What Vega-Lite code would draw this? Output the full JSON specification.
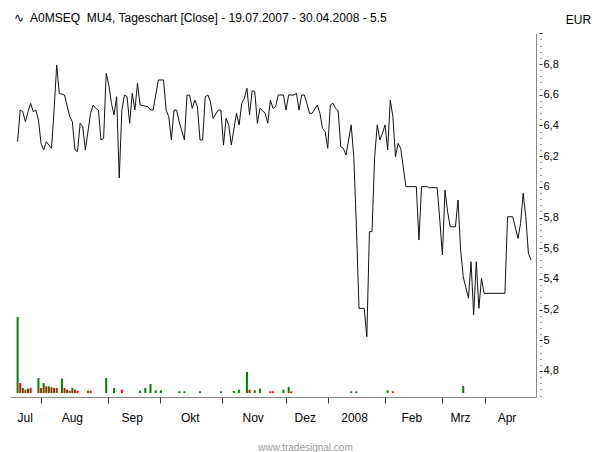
{
  "$schema": "https://vega.github.io/schema/vega-lite/v6.json",
  "width": 526,
  "height": 364,
  "autosize": {"type": "none"},
  "padding": {"left": 10, "top": 33, "right": 62, "bottom": 55},
  "background": "white",
  "config": {
    "view": {"stroke": null},
    "font": "Liberation Sans",
    "axis": {"labelFont": "Liberation Sans", "titleFont": "Liberation Sans", "grid": false}
  },
  "title": {
    "text": "∿\u00a0 A0MSEQ\u00a0 MU4, Tageschart [Close] - 19.07.2007 - 30.04.2008 - 5.5",
    "anchor": "start",
    "frame": "group",
    "orient": "top",
    "offset": 9,
    "dx": 4,
    "dy": 21,
    "font": "Liberation Sans",
    "fontSize": 12,
    "fontWeight": "normal",
    "color": "#000000"
  },
  "datasets": {
    "price": [
      {"t": 1, "close": 6.294}, {"t": 2, "close": 6.5}, {"t": 3, "close": 6.489}, {"t": 4, "close": 6.424},
      {"t": 5, "close": 6.489}, {"t": 6, "close": 6.544}, {"t": 7, "close": 6.489}, {"t": 8, "close": 6.5},
      {"t": 9, "close": 6.435}, {"t": 10, "close": 6.283}, {"t": 11, "close": 6.24}, {"t": 12, "close": 6.294},
      {"t": 13, "close": 6.272}, {"t": 14, "close": 6.251}, {"t": 15, "close": 6.5}, {"t": 16, "close": 6.793},
      {"t": 17, "close": 6.609}, {"t": 19, "close": 6.598}, {"t": 21, "close": 6.457}, {"t": 22, "close": 6.424},
      {"t": 23, "close": 6.24}, {"t": 24, "close": 6.229}, {"t": 25, "close": 6.414}, {"t": 26, "close": 6.392},
      {"t": 27, "close": 6.24}, {"t": 29, "close": 6.479}, {"t": 30, "close": 6.533}, {"t": 31, "close": 6.511},
      {"t": 32, "close": 6.5}, {"t": 33, "close": 6.305}, {"t": 34, "close": 6.316}, {"t": 35, "close": 6.739},
      {"t": 36, "close": 6.663}, {"t": 37, "close": 6.544}, {"t": 38, "close": 6.468}, {"t": 39, "close": 6.587},
      {"t": 40, "close": 6.057}, {"t": 41, "close": 6.5}, {"t": 42, "close": 6.598}, {"t": 43, "close": 6.587},
      {"t": 44, "close": 6.414}, {"t": 45, "close": 6.609}, {"t": 46, "close": 6.5}, {"t": 47, "close": 6.674},
      {"t": 48, "close": 6.533}, {"t": 51, "close": 6.522}, {"t": 52, "close": 6.5}, {"t": 53, "close": 6.5},
      {"t": 55, "close": 6.696}, {"t": 57, "close": 6.696}, {"t": 58, "close": 6.5}, {"t": 59, "close": 6.457},
      {"t": 60, "close": 6.305}, {"t": 61, "close": 6.5}, {"t": 62, "close": 6.5}, {"t": 63, "close": 6.424},
      {"t": 65, "close": 6.305}, {"t": 66, "close": 6.598}, {"t": 67, "close": 6.598}, {"t": 68, "close": 6.511},
      {"t": 69, "close": 6.565}, {"t": 70, "close": 6.522}, {"t": 71, "close": 6.305}, {"t": 72, "close": 6.305},
      {"t": 73, "close": 6.587}, {"t": 74, "close": 6.598}, {"t": 75, "close": 6.554}, {"t": 76, "close": 6.446},
      {"t": 78, "close": 6.5}, {"t": 79, "close": 6.5}, {"t": 80, "close": 6.272}, {"t": 81, "close": 6.446},
      {"t": 82, "close": 6.403}, {"t": 83, "close": 6.272}, {"t": 85, "close": 6.479}, {"t": 86, "close": 6.403},
      {"t": 87, "close": 6.544}, {"t": 88, "close": 6.577}, {"t": 89, "close": 6.642}, {"t": 90, "close": 6.468},
      {"t": 91, "close": 6.626}, {"t": 92, "close": 6.62}, {"t": 93, "close": 6.414}, {"t": 94, "close": 6.511},
      {"t": 96, "close": 6.479}, {"t": 97, "close": 6.414}, {"t": 98, "close": 6.565}, {"t": 99, "close": 6.511},
      {"t": 100, "close": 6.522}, {"t": 101, "close": 6.598}, {"t": 103, "close": 6.598}, {"t": 104, "close": 6.5},
      {"t": 105, "close": 6.598}, {"t": 107, "close": 6.598}, {"t": 108, "close": 6.609}, {"t": 109, "close": 6.5},
      {"t": 110, "close": 6.598}, {"t": 111, "close": 6.598}, {"t": 112, "close": 6.544}, {"t": 113, "close": 6.479},
      {"t": 114, "close": 6.479}, {"t": 116, "close": 6.533}, {"t": 117, "close": 6.479}, {"t": 118, "close": 6.381},
      {"t": 119, "close": 6.359}, {"t": 120, "close": 6.251}, {"t": 121, "close": 6.533}, {"t": 122, "close": 6.544},
      {"t": 123, "close": 6.511}, {"t": 124, "close": 6.496}, {"t": 125, "close": 6.261}, {"t": 126, "close": 6.251},
      {"t": 127, "close": 6.207}, {"t": 129, "close": 6.403}, {"t": 130, "close": 6.196}, {"t": 131, "close": 5.74},
      {"t": 132, "close": 5.208}, {"t": 134, "close": 5.208}, {"t": 135, "close": 5.023}, {"t": 136, "close": 5.708},
      {"t": 137, "close": 5.708}, {"t": 138, "close": 6.196}, {"t": 139, "close": 6.403}, {"t": 140, "close": 6.305},
      {"t": 141, "close": 6.348}, {"t": 142, "close": 6.403}, {"t": 143, "close": 6.24}, {"t": 144, "close": 6.565},
      {"t": 145, "close": 6.457}, {"t": 146, "close": 6.196}, {"t": 147, "close": 6.283}, {"t": 148, "close": 6.251},
      {"t": 150, "close": 6.001}, {"t": 154, "close": 6.001}, {"t": 155, "close": 5.653}, {"t": 156, "close": 6.001},
      {"t": 158, "close": 6.001}, {"t": 159, "close": 5.994}, {"t": 162, "close": 5.994}, {"t": 163, "close": 5.784},
      {"t": 164, "close": 5.556}, {"t": 165, "close": 5.979}, {"t": 166, "close": 5.838}, {"t": 167, "close": 5.74},
      {"t": 169, "close": 5.74}, {"t": 170, "close": 5.914}, {"t": 171, "close": 5.588}, {"t": 172, "close": 5.414},
      {"t": 174, "close": 5.274}, {"t": 175, "close": 5.512}, {"t": 176, "close": 5.166}, {"t": 177, "close": 5.512},
      {"t": 178, "close": 5.208}, {"t": 179, "close": 5.404}, {"t": 180, "close": 5.306}, {"t": 188, "close": 5.306},
      {"t": 189, "close": 5.805}, {"t": 191, "close": 5.805}, {"t": 193, "close": 5.664}, {"t": 194, "close": 5.762},
      {"t": 195, "close": 5.958}, {"t": 196, "close": 5.805}, {"t": 197, "close": 5.567}, {"t": 198, "close": 5.523}
    ],
    "volume": [
      {"t": 1, "vol": 7600, "dir": "up"}, {"t": 2, "vol": 1000, "dir": "down"}, {"t": 3, "vol": 500, "dir": "up"},
      {"t": 4, "vol": 330, "dir": "down"}, {"t": 5, "vol": 430, "dir": "up"}, {"t": 6, "vol": 500, "dir": "down"},
      {"t": 9, "vol": 1500, "dir": "up"}, {"t": 10, "vol": 500, "dir": "down"}, {"t": 11, "vol": 1000, "dir": "up"},
      {"t": 12, "vol": 670, "dir": "down"}, {"t": 13, "vol": 670, "dir": "up"}, {"t": 14, "vol": 570, "dir": "down"},
      {"t": 15, "vol": 500, "dir": "up"}, {"t": 16, "vol": 500, "dir": "down"}, {"t": 18, "vol": 1430, "dir": "up"},
      {"t": 19, "vol": 500, "dir": "down"}, {"t": 20, "vol": 330, "dir": "up"}, {"t": 21, "vol": 230, "dir": "down"},
      {"t": 22, "vol": 500, "dir": "up"}, {"t": 23, "vol": 330, "dir": "down"}, {"t": 24, "vol": 230, "dir": "down"},
      {"t": 28, "vol": 230, "dir": "up"}, {"t": 29, "vol": 230, "dir": "down"}, {"t": 35, "vol": 1500, "dir": "up"},
      {"t": 38, "vol": 500, "dir": "up"}, {"t": 41, "vol": 330, "dir": "down"}, {"t": 48, "vol": 230, "dir": "up"},
      {"t": 50, "vol": 500, "dir": "up"}, {"t": 52, "vol": 900, "dir": "up"}, {"t": 54, "vol": 270, "dir": "up"},
      {"t": 56, "vol": 270, "dir": "up"}, {"t": 63, "vol": 170, "dir": "up"}, {"t": 65, "vol": 170, "dir": "up"},
      {"t": 71, "vol": 170, "dir": "up"}, {"t": 79, "vol": 170, "dir": "up"}, {"t": 84, "vol": 200, "dir": "up"},
      {"t": 86, "vol": 330, "dir": "up"}, {"t": 89, "vol": 2100, "dir": "up"}, {"t": 90, "vol": 330, "dir": "down"},
      {"t": 92, "vol": 270, "dir": "up"}, {"t": 94, "vol": 430, "dir": "up"}, {"t": 98, "vol": 170, "dir": "down"},
      {"t": 99, "vol": 170, "dir": "down"}, {"t": 103, "vol": 330, "dir": "up"}, {"t": 105, "vol": 600, "dir": "up"},
      {"t": 106, "vol": 170, "dir": "down"}, {"t": 129, "vol": 170, "dir": "up"}, {"t": 131, "vol": 170, "dir": "up"},
      {"t": 143, "vol": 270, "dir": "up"}, {"t": 145, "vol": 170, "dir": "down"}, {"t": 172, "vol": 700, "dir": "up"}
    ]
  },
  "layer": [
    {
      "data": {"name": "volume"},
      "mark": {"type": "bar", "size": 2},
      "encoding": {
        "x": {
          "field": "t", "type": "quantitative",
          "scale": {"domain": [0, 198], "nice": false, "zero": false},
          "axis": {
            "orient": "bottom",
            "values": [3.7, 21.8, 44.8, 67.1, 91.2, 111.2, 130.1, 152.1, 170.8, 188.6],
            "labelExpr": "datum.value < 10 ? 'Jul' : datum.value < 30 ? 'Aug' : datum.value < 50 ? 'Sep' : datum.value < 80 ? 'Okt' : datum.value < 100 ? 'Nov' : datum.value < 120 ? 'Dez' : datum.value < 140 ? '2008' : datum.value < 160 ? 'Feb' : datum.value < 180 ? 'Mrz' : 'Apr'",
            "domain": false,
            "ticks": false,
            "tickSize": 0,
            "labelPadding": 20,
            "labelAlign": "center",
            "labelBaseline": "middle",
            "labelFontSize": 12,
            "labelColor": "#000000",
            "labelOverlap": false,
            "labelFlush": false,
            "title": "www.tradesignal.com",
            "titleFontSize": 10,
            "titleFontWeight": "normal",
            "titleColor": "#9a9a9a",
            "titleX": 295,
            "titleY": 50,
            "titleAlign": "center",
            "titleBaseline": "middle"
          }
        },
        "y": {
          "field": "vol", "type": "quantitative",
          "scale": {"domain": [-400, 36000], "nice": false},
          "axis": null
        },
        "color": {
          "field": "dir", "type": "nominal",
          "scale": {"domain": ["up", "down"], "range": ["#008000", "#ff0000"]},
          "legend": null
        }
      }
    },
    {
      "data": {"name": "price"},
      "mark": {"type": "line", "color": "#111111", "strokeWidth": 1},
      "encoding": {
        "x": {
          "field": "t", "type": "quantitative",
          "scale": {"domain": [0, 198], "nice": false, "zero": false},
          "axis": {
            "orient": "bottom",
            "values": [10, 35.5, 55.5, 79.5, 104, 120, 142, 164, 180.5],
            "labels": false,
            "domain": true,
            "domainColor": "#8a8a8a",
            "ticks": true,
            "tickSize": 6,
            "tickColor": "#333333",
            "title": null
          }
        },
        "y": {
          "field": "close", "type": "quantitative",
          "scale": {"domain": [4.6306, 7.002], "nice": false, "zero": false},
          "axis": {
            "orient": "right",
            "values": [4.64, 4.68, 4.72, 4.76, 4.8, 4.84, 4.88, 4.92, 4.96, 5, 5.04, 5.08, 5.12, 5.16, 5.2, 5.24, 5.28, 5.32, 5.36, 5.4, 5.44, 5.48, 5.52, 5.56, 5.6, 5.64, 5.68, 5.72, 5.76, 5.8, 5.84, 5.88, 5.92, 5.96, 6, 6.04, 6.08, 6.12, 6.16, 6.2, 6.24, 6.28, 6.32, 6.36, 6.4, 6.44, 6.48, 6.52, 6.56, 6.6, 6.64, 6.68, 6.72, 6.76, 6.8, 6.84, 6.88, 6.92, 6.96, 7],
            "domain": true,
            "domainColor": "#8a8a8a",
            "tickSize": 6,
            "tickColor": "#333333",
            "tickDash": {
              "condition": {"test": "abs(datum.value*5 - round(datum.value*5)) < 0.01", "value": [0, 3, 3, 0]},
              "value": [0, 4, 1, 1]
            },
            "labelExpr": "abs(datum.value*5 - round(datum.value*5)) < 0.01 && datum.value < 6.95 ? replace(format(datum.value, '.2~f'), '.', ',') : ''",
            "labelPadding": 1,
            "labelFontSize": 11,
            "labelColor": "#000000",
            "labelOverlap": false,
            "labelFlush": false,
            "labelBaseline": "middle",
            "title": "EUR",
            "titleAngle": 0,
            "titleX": 42,
            "titleY": -14,
            "titleAlign": "center",
            "titleBaseline": "middle",
            "titleFontSize": 12,
            "titleFontWeight": "normal",
            "titleColor": "#000000"
          }
        }
      }
    }
  ],
  "resolve": {"scale": {"y": "independent"}, "axis": {"x": "independent", "y": "independent"}}
}
